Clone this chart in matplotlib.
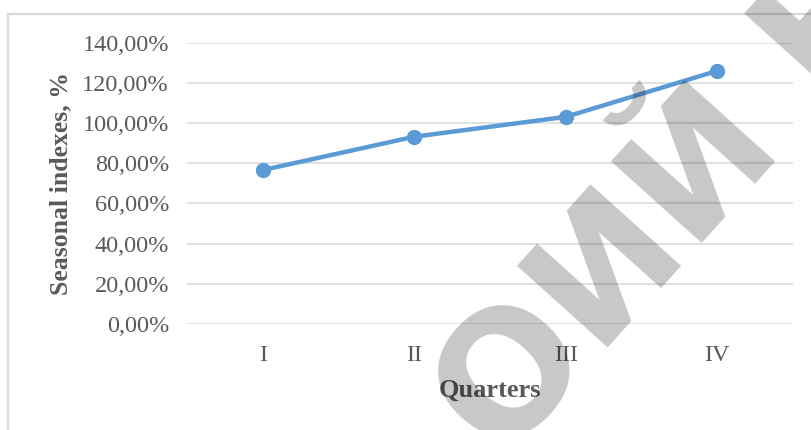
import numpy as np
import matplotlib
matplotlib.use("Agg")
import matplotlib.pyplot as plt
from matplotlib.patches import Rectangle
from matplotlib.ticker import FuncFormatter, MultipleLocator

#DATA
quarters = ["I", "II", "III", "IV"]
seasonal_index = [76.6, 93.2, 103.1, 126.0]   # %
y_max = 140
y_step = 20

#STYLE
line_color = "#5B9BD5"
text_color = "#595959"
grid_color = "#D9D9D9"
plt.rcParams["font.family"] = ["Liberation Serif", "DejaVu Serif"]

W, H, DPI = 812, 430, 100
fig = plt.figure(figsize=(W / DPI, H / DPI), dpi=DPI)
fig.patch.set_facecolor("white")

# chart area frame (Excel style), cut by the image edges
fig.patches.append(Rectangle((8 / W, -0.1), 1.2, 1 - 14 / H + 0.1,
                             transform=fig.transFigure, fill=False,
                             edgecolor=grid_color, linewidth=1.6))

ax = fig.add_axes([187 / W, 1 - 324 / H, (793 - 187) / W, (324 - 42.7) / H])
x = np.arange(len(quarters))
ax.plot(x, seasonal_index, color=line_color, linewidth=3.2,
        marker="o", markersize=10, solid_capstyle="round", zorder=3)

ax.set_xlim(-0.5, len(quarters) - 0.5)
ax.set_ylim(0, y_max)
ax.yaxis.set_major_locator(MultipleLocator(y_step))
ax.yaxis.set_major_formatter(FuncFormatter(lambda v, p: f"{v:.2f}%".replace(".", ",")))
ax.set_xticks(x)
ax.set_xticklabels(quarters)

ax.grid(axis="y", color=grid_color, linewidth=1.1)
ax.set_axisbelow(True)
for s in ax.spines.values():
    s.set_visible(False)
ax.tick_params(axis="both", length=0, colors=text_color, labelsize=17.5)
ax.tick_params(axis="y", pad=13)
ax.tick_params(axis="x", pad=15)

ax.set_ylabel("Seasonal indexes, %", fontsize=18.5, fontweight="bold",
              color=text_color, labelpad=7)
ax.set_xlabel("Quarters", fontsize=19, fontweight="bold",
              color=text_color, labelpad=9)

# diagonal watermark over the chart
fig.text(503 / W, -35 / H, "ОИЙ Н", fontsize=121, fontweight="bold",
         family="DejaVu Sans", color="black", alpha=0.22,
         rotation=48, rotation_mode="anchor", ha="left", va="baseline",
         zorder=10)

fig.savefig("out.png", dpi=DPI)
